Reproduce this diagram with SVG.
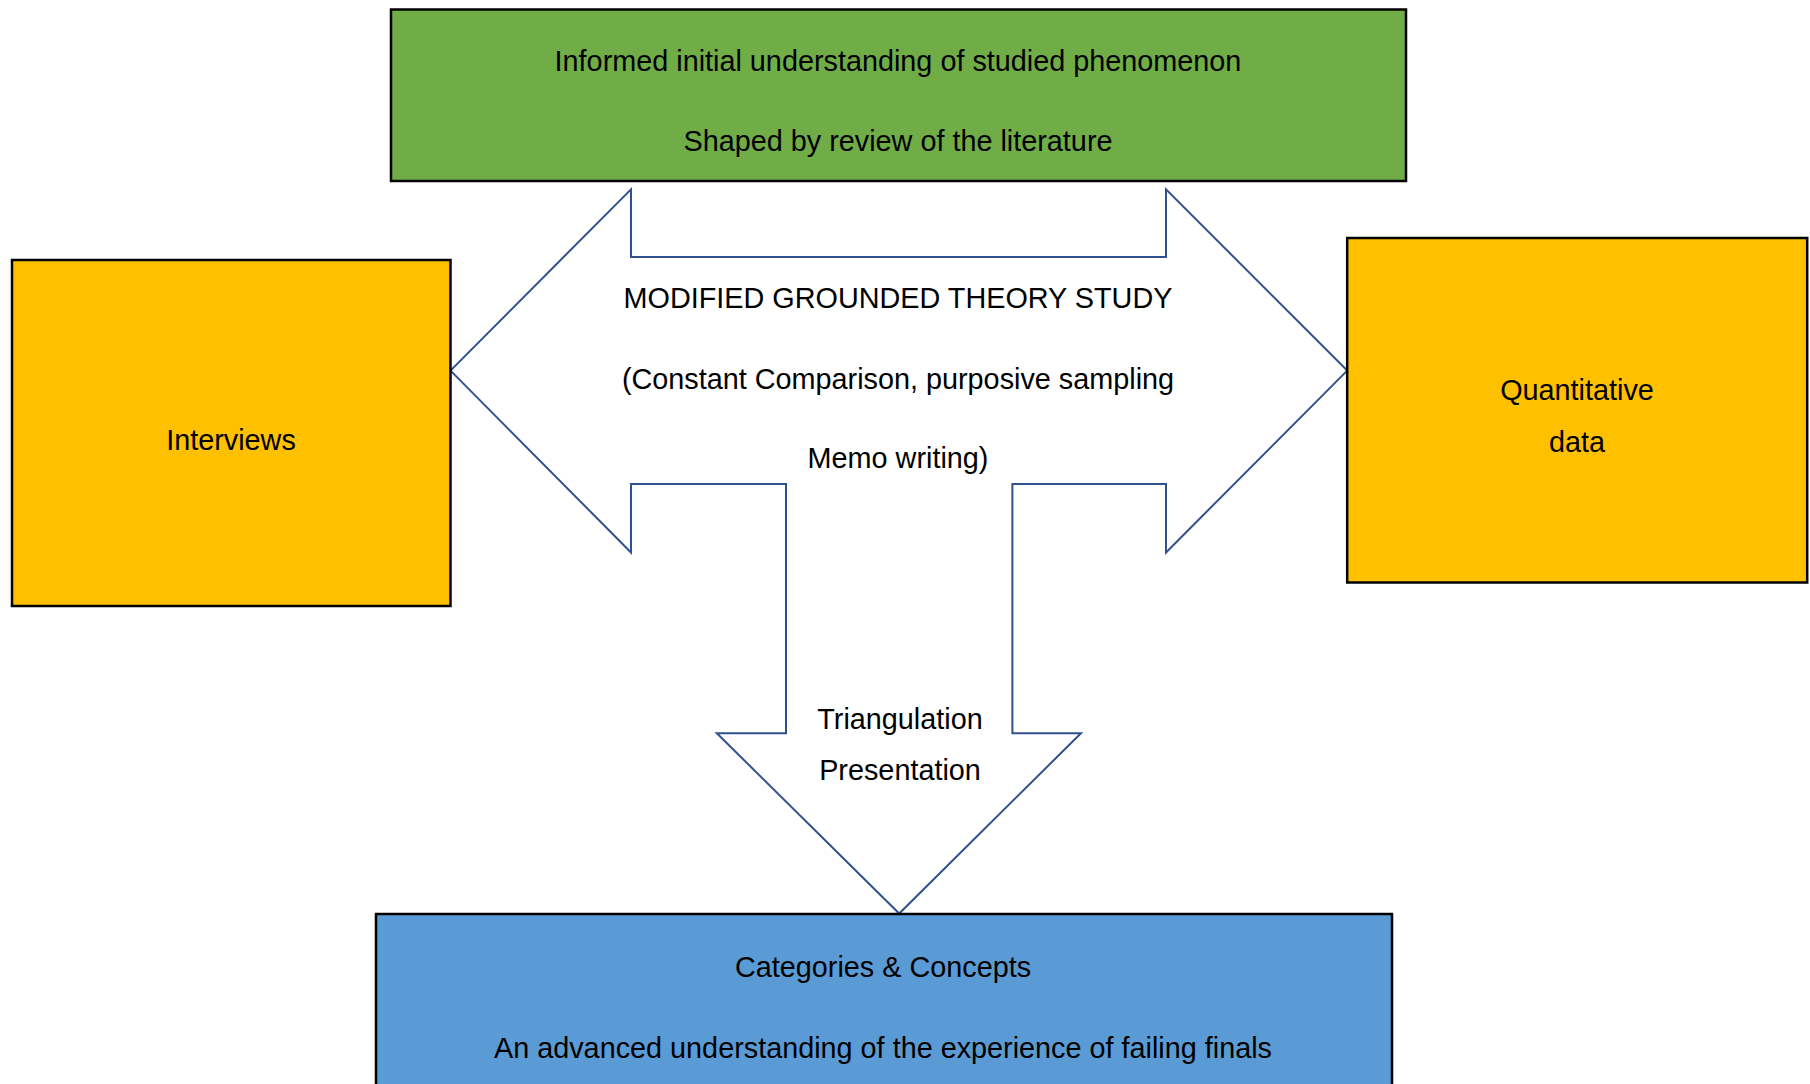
<svg xmlns="http://www.w3.org/2000/svg" width="1810" height="1084" viewBox="0 0 1810 1084">
<style>
.box{stroke:#000;stroke-width:2.5}
.t{font-family:"Liberation Sans",Arial,sans-serif;font-size:28.8px;fill:#000;text-anchor:middle}
.arrow{fill:#fff;stroke:#2F528F;stroke-width:2;stroke-linejoin:miter}
</style>
<rect width="1810" height="1084" fill="#fff"/>
<g id="connectors">
<path class="arrow" d="M450.5,370.6 L631,189.3 L631,257 L1166,257 L1166,189.3 L1347.2,370.6 L1166,552.5 L1166,484 L1012.4,484 L1012.4,733.2 L1081,733.2 L899.2,913.5 L716.8,733.2 L786,733.2 L786,484 L631,484 L631,552.5 Z"/>
<text class="t" x="898" y="308">MODIFIED GROUNDED THEORY STUDY</text>
<text class="t" x="898" y="389">(Constant Comparison, purposive sampling</text>
<text class="t" x="898" y="468">Memo writing)</text>
<text class="t" x="900" y="729">Triangulation</text>
<text class="t" x="900" y="780">Presentation</text>
</g>
<g id="literature">
<rect class="box" x="391" y="9.5" width="1015" height="171.5" fill="#70AD47"/>
<text class="t" x="898" y="71">Informed initial understanding of studied phenomenon</text>
<text class="t" x="898" y="151">Shaped by review of the literature</text>
</g>
<g id="interviews">
<rect class="box" x="12" y="260" width="438.5" height="346" fill="#FFC000"/>
<text class="t" x="231" y="450">Interviews</text>
</g>
<g id="quantitative">
<rect class="box" x="1347.2" y="238" width="460" height="344.5" fill="#FFC000"/>
<text class="t" x="1577" y="400">Quantitative</text>
<text class="t" x="1577" y="452">data</text>
</g>
<g id="categories">
<rect class="box" x="376" y="914" width="1016" height="180" fill="#5B9BD5"/>
<text class="t" x="883" y="977">Categories &amp; Concepts</text>
<text class="t" x="883" y="1058">An advanced understanding of the experience of failing finals</text>
</g>
</svg>
